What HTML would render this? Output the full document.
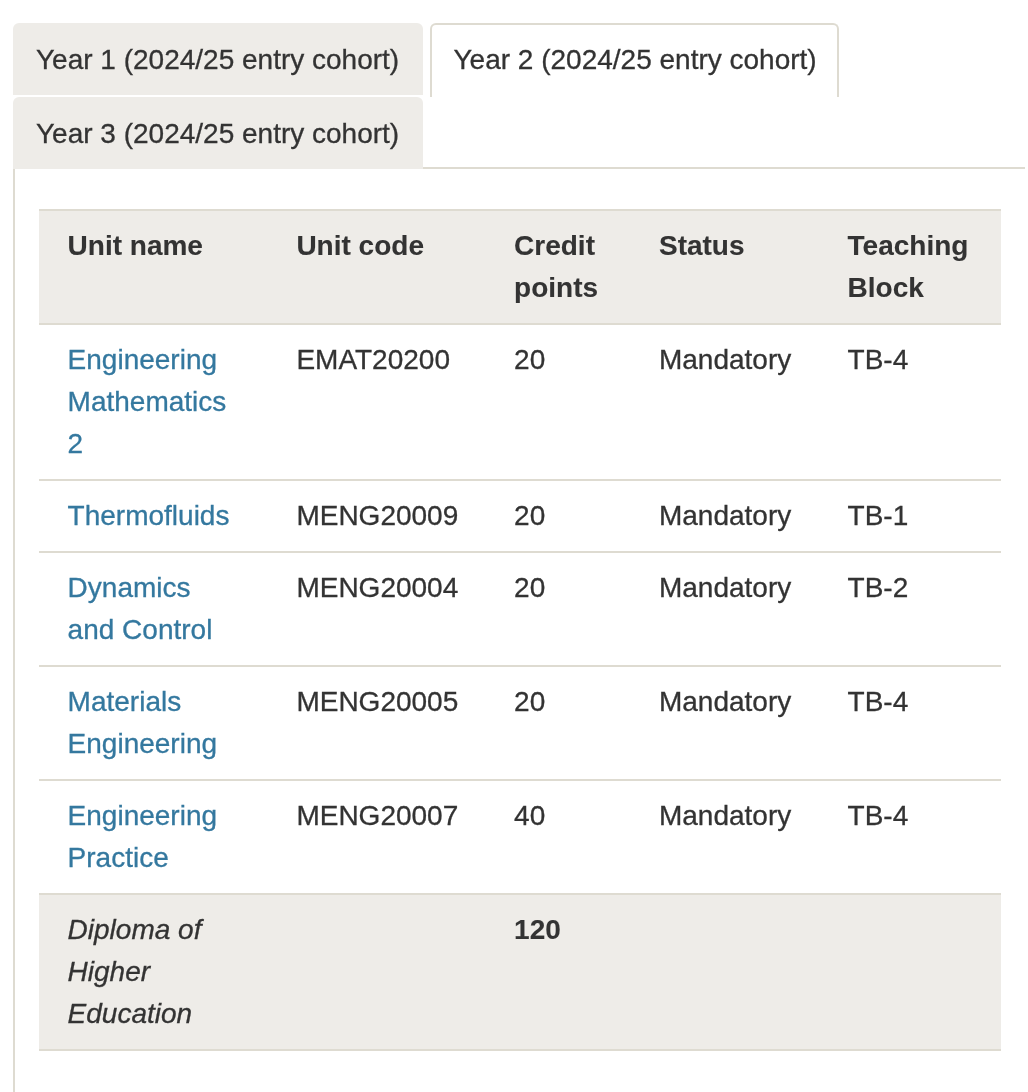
<!DOCTYPE html>
<html>
<head>
<meta charset="utf-8">
<title>Programme structure</title>
<style>
html,body{margin:0;padding:0;background:#fff;}
body{will-change:transform;width:1028px;height:1092px;overflow:hidden;position:relative;font-family:"Liberation Sans",sans-serif;font-size:28px;line-height:42px;color:#333;-webkit-text-stroke:0.3px #333;}
.tab{position:absolute;box-sizing:border-box;height:72px;border-radius:6px 6px 0 0;background:#eeece8;padding:16px 0 0 23px;white-space:nowrap;}
#t1{left:13px;top:23px;width:410px;}
#t3{left:13px;top:97px;width:410px;height:72px;}
#t2{left:430px;top:23px;width:409px;height:74px;background:#fff;border:2px solid #dedbd1;border-bottom:0;padding:14px 0 0 21.5px;}
#panel{position:absolute;left:13px;top:167px;width:1012px;height:940px;box-sizing:border-box;border-top:2px solid #dedbd1;border-left:2px solid #dedbd1;}
table{position:absolute;left:39px;top:209px;width:962px;border-collapse:collapse;table-layout:fixed;}
th,td{padding:14px 0 14px 28.6px;white-space:nowrap;text-align:left;vertical-align:top;border-bottom:2px solid #dedbd1;font-weight:normal;overflow:hidden;}
thead th,b{-webkit-text-stroke:0.1px #333;}
thead th{font-weight:bold;background:#eeece8;border-top:2px solid #dedbd1;}
tfoot td{background:#eeece8;}
a{color:#34789f;-webkit-text-stroke:0.3px #34789f;text-decoration:none;}
</style>
</head>
<body>
<div id="panel"></div>
<div class="tab" id="t1">Year 1 (2024/25 entry cohort)</div>
<div class="tab" id="t2">Year 2 (2024/25 entry cohort)</div>
<div class="tab" id="t3">Year 3 (2024/25 entry cohort)</div>
<table>
<colgroup><col style="width:228.8px"><col style="width:217.7px"><col style="width:144.9px"><col style="width:188.6px"><col style="width:182px"></colgroup>
<thead><tr><th>Unit name</th><th>Unit code</th><th>Credit<br>points</th><th>Status</th><th>Teaching<br>Block</th></tr></thead>
<tbody>
<tr><td><a>Engineering<br>Mathematics<br>2</a></td><td>EMAT20200</td><td>20</td><td>Mandatory</td><td>TB-4</td></tr>
<tr><td><a>Thermofluids</a></td><td>MENG20009</td><td>20</td><td>Mandatory</td><td>TB-1</td></tr>
<tr><td><a>Dynamics<br>and Control</a></td><td>MENG20004</td><td>20</td><td>Mandatory</td><td>TB-2</td></tr>
<tr><td><a>Materials<br>Engineering</a></td><td>MENG20005</td><td>20</td><td>Mandatory</td><td>TB-4</td></tr>
<tr><td><a>Engineering<br>Practice</a></td><td>MENG20007</td><td>40</td><td>Mandatory</td><td>TB-4</td></tr>
</tbody>
<tfoot><tr><td><i>Diploma of<br>Higher<br>Education</i></td><td></td><td><b>120</b></td><td></td><td></td></tr></tfoot>
</table>
</body>
</html>
